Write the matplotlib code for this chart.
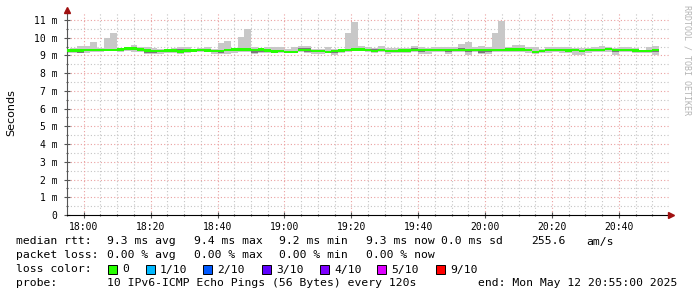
import numpy as np
import matplotlib
matplotlib.use('Agg')
import matplotlib.pyplot as plt
from matplotlib.patches import Rectangle

W, H = 697, 297

# sample start times, minutes relative to 18:00 (2 min step)
t_start = -6
step = 2

# 10 pings per sample: top/bottom of smoke, inner band, median (ms)
p_hi = [9.36, 9.40, 9.53, 9.53, 9.76, 9.40, 9.98, 10.27, 9.40, 9.50,
        9.58, 9.48, 9.46, 9.40, 9.35, 9.38, 9.42, 9.49, 9.49, 9.34,
        9.40, 9.49, 9.36, 9.72, 9.82, 9.40, 10.05, 10.50, 9.46, 9.40,
        9.48, 9.46, 9.46, 9.34, 9.46, 9.53, 9.53, 9.34, 9.34, 9.46,
        9.34, 9.34, 10.25, 10.88, 9.53, 9.46, 9.40, 9.53, 9.40, 9.40,
        9.40, 9.40, 9.53, 9.46, 9.40, 9.46, 9.46, 9.46, 9.46, 9.62,
        9.77, 9.49, 9.53, 9.46, 10.26, 10.94, 9.46, 9.59, 9.59, 9.46,
        9.46, 9.36, 9.46, 9.46, 9.46, 9.46, 9.40, 9.40, 9.40, 9.46,
        9.53, 9.46, 9.40, 9.46, 9.46, 9.40, 9.33, 9.46, 9.53]
p_lo = [9.15, 9.13, 9.12, 9.15, 9.17, 9.20, 9.22, 9.22, 9.20, 9.22,
        9.20, 9.18, 9.08, 9.08, 9.10, 9.15, 9.15, 9.08, 9.15, 9.18,
        9.18, 9.17, 9.10, 9.07, 9.10, 9.15, 9.20, 9.20, 9.10, 9.12,
        9.14, 9.17, 9.13, 9.14, 9.12, 9.20, 9.14, 9.10, 9.10, 9.12,
        9.04, 9.15, 9.18, 9.22, 9.22, 9.18, 9.14, 9.18, 9.10, 9.12,
        9.15, 9.15, 9.18, 9.10, 9.10, 9.18, 9.18, 9.10, 9.18, 9.18,
        9.02, 9.17, 9.10, 9.10, 9.18, 9.18, 9.20, 9.20, 9.20, 9.15,
        9.10, 9.14, 9.15, 9.18, 9.16, 9.12, 9.02, 9.02, 9.15, 9.18,
        9.18, 9.20, 9.02, 9.18, 9.18, 9.15, 9.12, 9.12, 9.02]
q_hi = [9.34, 9.38, 9.33, 9.34, 9.36, 9.36, 9.37, 9.36, 9.37, 9.42,
        9.42, 9.38, 9.31, 9.29, 9.27, 9.32, 9.38, 9.36, 9.33, 9.31,
        9.36, 9.38, 9.27, 9.30, 9.34, 9.37, 9.38, 9.38, 9.35, 9.37,
        9.33, 9.26, 9.27, 9.24, 9.25, 9.42, 9.42, 9.28, 9.28, 9.24,
        9.27, 9.32, 9.36, 9.40, 9.44, 9.35, 9.36, 9.38, 9.29, 9.29,
        9.31, 9.31, 9.40, 9.35, 9.35, 9.35, 9.35, 9.34, 9.35, 9.40,
        9.35, 9.35, 9.35, 9.35, 9.36, 9.36, 9.37, 9.37, 9.37, 9.38,
        9.27, 9.29, 9.34, 9.35, 9.35, 9.33, 9.35, 9.29, 9.34, 9.35,
        9.38, 9.41, 9.34, 9.35, 9.35, 9.32, 9.27, 9.29, 9.36]
q_lo = [9.22, 9.20, 9.16, 9.22, 9.25, 9.27, 9.27, 9.26, 9.28, 9.33,
        9.32, 9.27, 9.14, 9.16, 9.17, 9.22, 9.22, 9.12, 9.22, 9.23,
        9.26, 9.22, 9.17, 9.12, 9.22, 9.27, 9.27, 9.27, 9.15, 9.18,
        9.18, 9.19, 9.18, 9.16, 9.16, 9.26, 9.20, 9.18, 9.18, 9.14,
        9.16, 9.22, 9.24, 9.28, 9.28, 9.25, 9.19, 9.25, 9.18, 9.18,
        9.21, 9.21, 9.25, 9.20, 9.22, 9.25, 9.25, 9.20, 9.25, 9.25,
        9.20, 9.24, 9.16, 9.20, 9.25, 9.25, 9.27, 9.27, 9.27, 9.22,
        9.15, 9.19, 9.22, 9.25, 9.23, 9.18, 9.22, 9.18, 9.22, 9.24,
        9.25, 9.30, 9.20, 9.25, 9.25, 9.20, 9.17, 9.18, 9.20]
median = [9.28, 9.27, 9.27, 9.29, 9.31, 9.32, 9.32, 9.31, 9.33, 9.38,
          9.38, 9.33, 9.27, 9.25, 9.23, 9.27, 9.28, 9.22, 9.28, 9.28,
          9.32, 9.28, 9.23, 9.25, 9.30, 9.33, 9.33, 9.33, 9.30, 9.33,
          9.28, 9.22, 9.23, 9.19, 9.21, 9.32, 9.30, 9.24, 9.24, 9.18,
          9.23, 9.28, 9.31, 9.34, 9.34, 9.31, 9.25, 9.31, 9.25, 9.25,
          9.27, 9.27, 9.31, 9.30, 9.31, 9.31, 9.31, 9.30, 9.31, 9.31,
          9.30, 9.31, 9.31, 9.31, 9.31, 9.31, 9.33, 9.33, 9.33, 9.31,
          9.21, 9.25, 9.30, 9.31, 9.31, 9.28, 9.31, 9.25, 9.30, 9.31,
          9.31, 9.37, 9.30, 9.31, 9.31, 9.27, 9.23, 9.25, 9.30]

xticks_major = [0, 20, 40, 60, 80, 100, 120, 140, 160]
xtick_labels = ['18:00', '18:20', '18:40', '19:00', '19:20', '19:40', '20:00', '20:20', '20:40']
yticks = list(range(12))
ytick_labels = ['0'] + ['%d m' % v for v in range(1, 12)]

loss_labels = ['0', '1/10', '2/10', '3/10', '4/10', '5/10', '9/10']
loss_colors = ['#26ff00', '#00b8ff', '#0059ff', '#5e00ff', '#7e00ff', '#dd00ff', '#ff0000']

mono = 'DejaVu Sans Mono'

def fx(x): return x / W
def fy(y): return 1 - y / H

fig = plt.figure(figsize=(W / 100, H / 100), dpi=100)
fig.patch.set_facecolor('white')
ax = fig.add_axes([fx(67), fy(215), (669 - 67) / W, (215 - 13) / H])
ax.set_xlim(-5, 175)
ax.set_ylim(0, 11.39)

# grid: gray minor, red major
for x in np.arange(-5, 176, 5):
  if x % 20 == 0: continue
  ax.axvline(x, color='#c4c4c4', lw=0.8, ls=(0, (1, 2)), zorder=0)
for y in np.arange(0.5, 11.4, 1.0):
  ax.axhline(y, color='#c4c4c4', lw=0.8, ls=(0, (1, 2)), zorder=0)
for x in xticks_major:
  ax.axvline(x, color='#eaa0a0', lw=0.8, ls=(0, (1, 2)), zorder=0)
for y in range(1, 12):
  ax.axhline(y, color='#eaa0a0', lw=0.8, ls=(0, (1, 2)), zorder=0)

# smoke + median
edges = t_start + step * np.arange(len(median) + 1)
med = np.array(median)
ax.stairs(p_hi, edges, baseline=p_lo, fill=True, color='#c8c8c8', lw=0, zorder=2)
ax.stairs(q_hi, edges, baseline=q_lo, fill=True, color='#7a7a7a', lw=0, zorder=3)
ax.stairs(med + 0.065, edges, baseline=med - 0.065, fill=True, color='#26ff00', lw=0, zorder=4)

# axes styling
for s in ['top', 'right']:
  ax.spines[s].set_visible(False)
ax.spines['left'].set_color('#555555')
ax.spines['bottom'].set_color('#000000')
ax.set_xticks(xticks_major)
ax.set_xticklabels(xtick_labels, fontfamily=mono, fontsize=7)
ax.set_xticks(np.arange(-5, 176, 5), minor=True)
ax.set_yticks(yticks)
ax.set_yticklabels(ytick_labels, fontfamily=mono, fontsize=7)
ax.set_yticks(np.arange(0.5, 11.4, 1.0), minor=True)
ax.tick_params(axis='both', which='major', direction='inout', length=4, width=0.8, color='#555555', pad=3)
ax.tick_params(axis='both', which='minor', direction='inout', length=2, width=0.8, color='#555555')
ax.tick_params(axis='y', pad=5)

# arrow heads
ax.plot([0], [1 + 3 / 202], marker='^', ms=5, color='#a01010', transform=ax.transAxes, clip_on=False, zorder=6)
ax.plot([1 + 2 / 602], [0], marker='>', ms=5, color='#a01010', transform=ax.transAxes, clip_on=False, zorder=6)

fig.text(fx(11), fy(113), 'Seconds', rotation=90, ha='center', va='center', fontsize=8)
fig.text(fx(687), fy(60), 'RRDTOOL / TOBI OETIKER', rotation=270, ha='center', va='center',
         fontsize=6, fontfamily=mono, color='#b4b4b4')

# legend rows
fs = 8.2
def txt(x, y, s):
  fig.text(fx(x), fy(y), s, ha='left', va='center', fontsize=fs, fontfamily=mono)

r1, r2, r3, r4 = 241.5, 255.5, 269.5, 283.5
txt(16, r1, 'median rtt:')
txt(107, r1, '9.3 ms avg')
txt(194, r1, '9.4 ms max')
txt(279, r1, '9.2 ms min')
txt(366, r1, '9.3 ms now')
txt(441, r1, '0.0 ms sd')
txt(531, r1, '255.6')
txt(586, r1, 'am/s')

txt(16, r2, 'packet loss:')
txt(107, r2, '0.00 % avg')
txt(194, r2, '0.00 % max')
txt(279, r2, '0.00 % min')
txt(366, r2, '0.00 % now')

txt(16, r3, 'loss color:')
box_x = [108, 146, 203, 262, 320, 377, 436]
for bx, lab, col in zip(box_x, loss_labels, loss_colors):
  fig.patches.append(Rectangle((fx(bx), fy(r3 + 4.5)), 9 / W, 9 / H, transform=fig.transFigure,
                               facecolor=col, edgecolor='black', lw=0.7))
  txt(bx + 14, r3, lab)

txt(16, r4, 'probe:')
txt(107, r4, '10 IPv6-ICMP Echo Pings (56 Bytes) every 120s')
txt(478, r4, 'end: Mon May 12 20:55:00 2025')

fig.savefig('out.png', dpi=100, facecolor='white')
